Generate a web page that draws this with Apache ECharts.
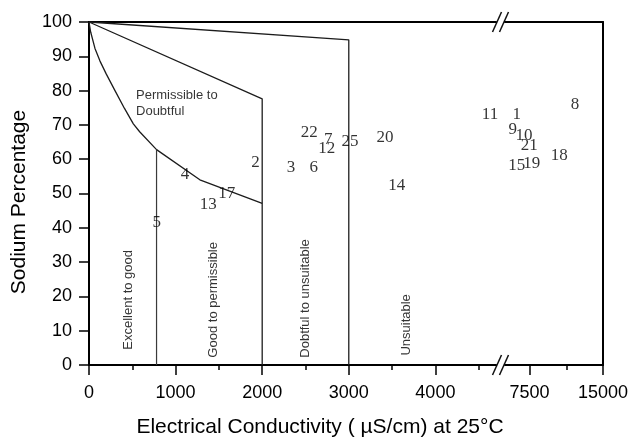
<!DOCTYPE html>
<html>
<head>
<meta charset="utf-8">
<script src="https://cdn.jsdelivr.net/npm/echarts@6/dist/echarts.min.js"></script>
<style>
  html, body { margin: 0; padding: 0; background: #fff; }
  #chart { width: 633px; height: 442px; }
</style>
</head>
<body>
<div id="chart"></div>
<script>
// Water samples: number, electrical conductivity (µS/cm at 25 °C) and sodium percentage
const sampleIds = ['1', '2', '3', '4', '5', '6', '7', '8', '9', '10', '11', '12', '13', '14', '15', '17', '18', '19', '20', '21', '22', '25'];
const ecValues  = [6190, 1923, 2333, 1109, 782, 2595, 2763, 12140, 5790, 6940, 4631, 2745, 1378, 3553, 6190, 1590, 10540, 7720, 3418, 7480, 2543, 3014];
const naPercent = [72.9, 59.0, 57.6, 55.5, 41.5, 57.7, 65.8, 75.8, 68.7, 66.8, 72.9, 63.2, 46.8, 52.2, 58.1, 49.9, 61.2, 58.8, 66.4, 64.1, 67.9, 65.1];

// Broken conductivity axis: lower part and upper part
const lowRange  = [0, 4700];
const highRange = [5000, 15000];
const lowTickLabels  = [0, 1000, 2000, 3000, 4000];
const lowMinorTicks  = [500, 1500, 2500, 3500, 4500];
const highTickLabels = [7500, 15000];
const highMinorTicks = [11250];
const yTicks = [0, 100, 10];

// Wilcox class boundaries [EC, Na%]
const excellentLimit = [[0, 100], [20, 97], [69, 92.3], [127, 88.6], [200, 84.8], [300, 80], [410, 74.8], [512, 70.3], [585, 68], [780, 62.8], [1280, 54], [2000, 47.1]];
const excellentEdge  = [[780, 62.8], [780, 0]];
const permissibleLimit = [[0, 100], [2000, 77.6], [2000, 0]];
const doubtfulLimit    = [[0, 100], [3000, 94.8], [3000, 0]];

// Class names and where they sit [EC, Na%]
const zoneNames = ['Excellent to good', 'Good to permissible', 'Dobtful to unsuitable', 'Unsuitable'];
const zoneEC    = [454, 1435, 2494, 3669];
const zoneNa    = [19, 19, 19.4, 11.7];
const upperZoneName = 'Permissible to\nDoubtful';
const upperZonePos  = [543, 76.4];

const lowPoints = [], highPoints = [];
sampleIds.forEach((id, i) => {
  const p = { name: id, value: [ecValues[i], naPercent[i]] };
  (ecValues[i] <= lowRange[1] ? lowPoints : highPoints).push(p);
});

const AXIS = '#000';
const SANS = 'Liberation Sans, Arial, sans-serif';
const axisLine = { show: true, lineStyle: { color: AXIS, width: 2 } };
const tickLabel = { color: '#000', fontSize: 18, fontFamily: SANS };

function bottomAxis(gridIndex, range, majors, minors) {
  return [
    {
      type: 'value', gridIndex, position: 'bottom', min: range[0], max: range[1],
      axisLine, splitLine: { show: false },
      axisTick: { show: true, customValues: majors, length: 10, lineStyle: { color: AXIS, width: 1.5 } },
      axisLabel: Object.assign({ customValues: majors, margin: 19, formatter: v => String(v) }, tickLabel)
    },
    {
      type: 'value', gridIndex, position: 'bottom', min: range[0], max: range[1],
      axisLine: { show: false }, splitLine: { show: false },
      axisTick: { show: true, customValues: minors, length: 5, lineStyle: { color: AXIS, width: 1.5 } },
      axisLabel: { show: false }
    },
    {
      type: 'value', gridIndex, position: 'top', min: range[0], max: range[1],
      axisLine, splitLine: { show: false }, axisTick: { show: false }, axisLabel: { show: false }
    }
  ];
}

const boundaryStyle = { color: '#1c1c1c', width: 1.3 };
const edgeStyle = { color: '#3a3a3a', width: 1.2 };
function boundary(data, style) {
  return {
    type: 'line', xAxisIndex: 0, yAxisIndex: 0, data, symbol: 'none', silent: true,
    lineStyle: style, z: 2
  };
}

const sampleLabel = {
  show: true, position: 'inside', formatter: p => p.name,
  color: '#000', fontSize: 17, fontFamily: 'Liberation Serif, Times New Roman, serif'
};
function samples(data, xi, yi) {
  return {
    type: 'scatter', xAxisIndex: xi, yAxisIndex: yi, data, symbolSize: 1,
    itemStyle: { color: 'rgba(0,0,0,0)' }, label: sampleLabel, z: 5, silent: true
  };
}

const zoneFont = { color: '#000', fontSize: 13, fontFamily: SANS };

const chart = echarts.init(document.getElementById('chart'), null, { renderer: 'canvas' });
chart.setOption({
  animation: false,
  backgroundColor: '#fff',
  grid: [
    { left: 89, top: 22, width: 407, bottom: 77, containLabel: false, outerBoundsMode: 'none' },
    { left: 505, top: 22, width: 98, bottom: 77, containLabel: false, outerBoundsMode: 'none' }
  ],
  xAxis: [].concat(
    bottomAxis(0, lowRange, lowTickLabels, lowMinorTicks),
    bottomAxis(1, highRange, highTickLabels, highMinorTicks)
  ),
  yAxis: [
    {
      type: 'value', gridIndex: 0, min: yTicks[0], max: yTicks[1], interval: yTicks[2],
      axisLine, splitLine: { show: false },
      axisTick: { show: true, length: 10, lineStyle: { color: AXIS, width: 1.5 } },
      axisLabel: Object.assign({ margin: 17 }, tickLabel)
    },
    {
      type: 'value', gridIndex: 1, position: 'right', min: yTicks[0], max: yTicks[1],
      axisLine, splitLine: { show: false }, axisTick: { show: false }, axisLabel: { show: false }
    }
  ],
  series: [
    boundary(excellentLimit, boundaryStyle),
    boundary(excellentEdge, edgeStyle),
    boundary(permissibleLimit, boundaryStyle),
    boundary(doubtfulLimit, boundaryStyle),
    {
      type: 'scatter', xAxisIndex: 0, yAxisIndex: 0, symbolSize: 1, silent: true,
      itemStyle: { color: 'rgba(0,0,0,0)' },
      data: zoneNames.map((n, i) => ({ name: n, value: [zoneEC[i], zoneNa[i]] })),
      label: Object.assign({ show: true, position: 'inside', rotate: 90, formatter: p => p.name }, zoneFont)
    },
    {
      type: 'scatter', xAxisIndex: 0, yAxisIndex: 0, symbolSize: 1, silent: true,
      itemStyle: { color: 'rgba(0,0,0,0)' },
      data: [{ name: upperZoneName, value: upperZonePos }],
      label: Object.assign({ show: true, position: 'inside', align: 'left', lineHeight: 16, formatter: p => p.name }, zoneFont)
    },
    samples(lowPoints, 0, 0),
    samples(highPoints, 3, 1)
  ],
  graphic: [
    // axis-break marks on the top and bottom frame lines
    { type: 'line', shape: { x1: 492.5, y1: 32, x2: 501.5, y2: 12 }, style: { stroke: '#111', lineWidth: 1.5 } },
    { type: 'line', shape: { x1: 499.5, y1: 32, x2: 508.5, y2: 12 }, style: { stroke: '#111', lineWidth: 1.5 } },
    { type: 'line', shape: { x1: 492.5, y1: 375, x2: 501.5, y2: 355 }, style: { stroke: '#111', lineWidth: 1.5 } },
    { type: 'line', shape: { x1: 499.5, y1: 375, x2: 508.5, y2: 355 }, style: { stroke: '#111', lineWidth: 1.5 } },
    // axis titles
    {
      type: 'text', x: 320, y: 427,
      style: {
        text: 'Electrical Conductivity ( µS/cm) at 25°C', align: 'center', verticalAlign: 'middle',
        fill: '#000', fontSize: 21, fontFamily: SANS
      }
    },
    {
      type: 'text', x: 19, y: 202, rotation: Math.PI / 2,
      style: {
        text: 'Sodium Percentage', align: 'center', verticalAlign: 'middle',
        fill: '#000', fontSize: 21, fontFamily: SANS
      }
    }
  ]
});
</script>
</body>
</html>
